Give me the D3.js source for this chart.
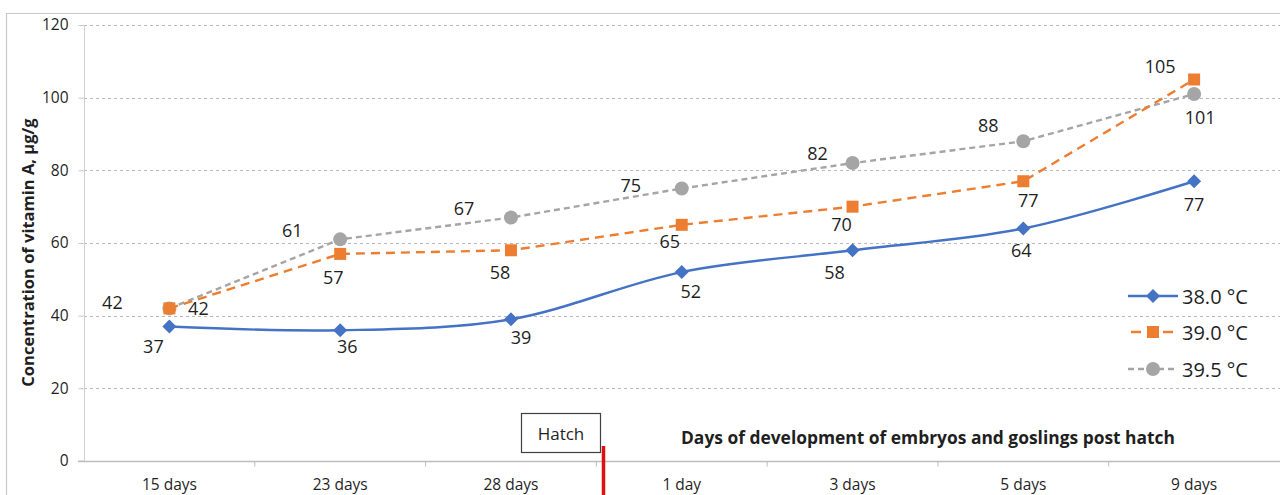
<!DOCTYPE html>
<html>
<head>
<meta charset="utf-8">
<script src="https://cdn.jsdelivr.net/npm/d3@7"></script>
<style>
  html, body { margin: 0; padding: 0; background: #fff; }
  svg { display: block; font-family: "Open Sans", "Noto Sans", sans-serif; }
</style>
</head>
<body>
<svg id="chart" width="1280" height="495"></svg>
<script>
// ---- data ----
const categories = ["15 days", "23 days", "28 days", "1 day", "3 days", "5 days", "9 days"];
const seriesNames = ["38.0 °C", "39.0 °C", "39.5 °C"];
const values380 = [37, 36, 39, 52, 58, 64, 77];
const values390 = [42, 57, 58, 65, 70, 77, 105];
const values395 = [42, 61, 67, 75, 82, 88, 101];
const yTicks = [0, 20, 40, 60, 80, 100, 120];
const yTitle = "Concentration of vitamin A, μg/g";
const xTitle = "Days of development of embryos and goslings post hatch";
const hatchLabel = "Hatch";

// label offsets (dx, dy of text centre from the point)
const off380 = [[-16, 19], [7, 16], [10, 18], [9, 19], [-18, 22], [-2, 22], [0, 23]];
const off390 = [[29, 0], [-7, 23], [-11, 22], [-12, 16], [-11, 17], [5, 19], [-34, -14]];
const off395 = [[-57, -6], [-48, -9], [-47, -10], [-51, -4], [-35, -10], [-35, -16], [6, 23]];

const svg = d3.select("#chart");
const textColor = "#1f1f1f";

const x = d3.scaleBand().domain(categories).range([84, 1279.5]);
const y = d3.scaleLinear().domain([0, 120]).range([461, 25]);
const cx = d => x(d) + x.bandwidth() / 2;

// outer frame
svg.append("path").attr("d", "M6.5,495 V13.5 H1280").attr("fill", "none").attr("stroke", "#c8c8c8").attr("stroke-width", 1.2);

// gridlines
svg.append("g").selectAll("line").data(yTicks.filter(t => t > 0)).join("line")
  .attr("x1", 84).attr("x2", 1280)
  .attr("y1", d => Math.round(y(d)) + 0.5).attr("y2", d => Math.round(y(d)) + 0.5)
  .attr("stroke", "#b8b8b8").attr("stroke-width", 1).attr("stroke-dasharray", "3,3");

// y axis
const yAxis = d3.axisLeft(y).tickValues(yTicks).tickSize(6).tickPadding(10);
const gy = svg.append("g").attr("transform", "translate(84.5,0)").call(yAxis);
gy.select(".domain").attr("stroke", "#d0d0d0").attr("d", `M-6,${y(0)}H0V${y(120)}`);
gy.selectAll(".tick line").attr("stroke", "#c8c8c8");
gy.selectAll(".tick text").attr("fill", textColor).style("font-size", "15.5px").style("font-family", "Open Sans");

// x axis
const xAxis = d3.axisBottom(x).tickSize(0).tickPadding(17);
const gx = svg.append("g").attr("transform", `translate(0,${y(0) + 0.5})`).call(xAxis);
gx.select(".domain").attr("stroke", "#bdbdbd").attr("stroke-width", 1.3).attr("d", "M78,0H1280");
gx.selectAll(".tick text").attr("fill", textColor).style("font-size", "15.5px").style("font-family", "Open Sans");
// band boundary ticks
gx.append("g").selectAll("line").data(categories.slice(1)).join("line")
  .attr("x1", d => x(d)).attr("x2", d => x(d)).attr("y1", 0).attr("y2", 5)
  .attr("stroke", "#bdbdbd");

// axis titles
svg.append("text").attr("transform", `translate(27,${(112 + 393) / 2}) rotate(-90)`)
  .attr("text-anchor", "middle").attr("dominant-baseline", "central")
  .attr("fill", textColor).style("font-weight", "bold").style("font-size", "16.5px")
  .text(yTitle);
svg.append("text").attr("x", 928).attr("y", 437)
  .attr("text-anchor", "middle").attr("dominant-baseline", "central")
  .attr("fill", textColor).style("font-weight", "bold").style("font-size", "17.4px")
  .text(xTitle);

// hatch box and red line
svg.append("rect").attr("x", 521.5).attr("y", 413.5).attr("width", 79).attr("height", 39)
  .attr("fill", "#fff").attr("stroke", "#404040").attr("stroke-width", 1.2);
svg.append("text").attr("x", 561).attr("y", 433).attr("text-anchor", "middle")
  .attr("dominant-baseline", "central").attr("fill", textColor).style("font-size", "17px").text(hatchLabel);
svg.append("line").attr("x1", 603.5).attr("x2", 603.5).attr("y1", 446).attr("y2", 495)
  .attr("stroke", "#e01010").attr("stroke-width", 3.5);

// series
const series = [
  { name: seriesNames[0], vals: values380, off: off380, color: "#4472C4", dash: null, curve: d3.curveCardinal.tension(0), marker: "diamond" },
  { name: seriesNames[1], vals: values390, off: off390, color: "#ED7D31", dash: "9,6", curve: d3.curveLinear, marker: "square" },
  { name: seriesNames[2], vals: values395, off: off395, color: "#A5A5A5", dash: "6,4", curve: d3.curveLinear, marker: "circle" }
];

function drawMarker(g, type, color) {
  if (type === "diamond") g.append("path").attr("d", "M0,-7L7,0L0,7L-7,0Z").attr("fill", color);
  else if (type === "square") g.append("rect").attr("x", -6).attr("y", -6).attr("width", 12).attr("height", 12).attr("fill", color);
  else g.append("circle").attr("r", 7).attr("fill", color);
}

// draw order: gray, orange, blue
[2, 1, 0].forEach(i => {
  const s = series[i];
  const line = d3.line().x((d, j) => cx(categories[j])).y(d => y(d)).curve(s.curve);
  const p = svg.append("path").datum(s.vals).attr("d", line)
    .attr("fill", "none").attr("stroke", s.color).attr("stroke-width", 2.4);
  if (s.dash) p.attr("stroke-dasharray", s.dash);
  s.vals.forEach((v, j) => {
    const g = svg.append("g").attr("transform", `translate(${cx(categories[j])},${y(v)})`);
    drawMarker(g, s.marker, s.color);
  });
});

// labels
series.forEach(s => {
  s.vals.forEach((v, j) => {
    svg.append("text").attr("x", cx(categories[j]) + s.off[j][0]).attr("y", y(v) + s.off[j][1])
      .attr("text-anchor", "middle").attr("dominant-baseline", "central")
      .attr("fill", textColor).style("font-size", "18px").text(v);
  });
});

// legend
const legY = [296, 332, 369];
series.forEach((s, i) => {
  const g = svg.append("g").attr("transform", `translate(0,${legY[i]})`);
  const l = g.append("line").attr("x1", 1128).attr("x2", 1178).attr("y1", 0).attr("y2", 0)
    .attr("stroke", s.color).attr("stroke-width", 2.4);
  if (s.dash) l.attr("stroke-dasharray", i === 1 ? "10,22" : "6,4").attr("stroke-dashoffset", i === 1 ? -3 : 0);
  const m = g.append("g").attr("transform", "translate(1153,0)");
  drawMarker(m, s.marker, s.color);
  g.append("text").attr("x", 1182).attr("y", 0).attr("dominant-baseline", "central")
    .attr("fill", textColor).style("font-size", "20px").text(s.name);
});
</script>
</body>
</html>
